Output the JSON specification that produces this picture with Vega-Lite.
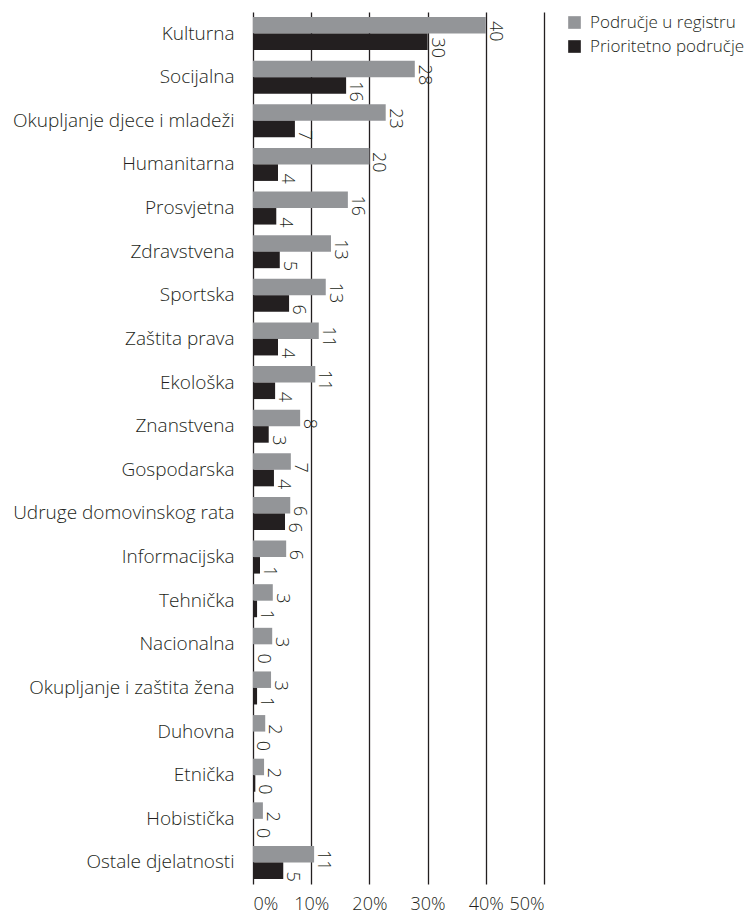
{
  "$schema": "https://vega.github.io/schema/vega-lite/v6.json",
  "autosize": "none",
  "width": 291,
  "height": 872,
  "padding": {"left": 253, "top": 12, "right": 209, "bottom": 32},
  "background": "white",
  "config": {
    "view": {"stroke": null},
    "font": "Open Sans",
    "text": {"font": "Open Sans"}
  },
  "data": {
    "values": [
      {"category": "Kulturna", "series": "Područje u registru", "value": 40.0},
      {"category": "Kulturna", "series": "Prioritetno područje", "value": 30.0},
      {"category": "Socijalna", "series": "Područje u registru", "value": 27.8},
      {"category": "Socijalna", "series": "Prioritetno područje", "value": 16.0},
      {"category": "Okupljanje djece i mladeži", "series": "Područje u registru", "value": 22.8},
      {"category": "Okupljanje djece i mladeži", "series": "Prioritetno područje", "value": 7.2},
      {"category": "Humanitarna", "series": "Područje u registru", "value": 20.0},
      {"category": "Humanitarna", "series": "Prioritetno područje", "value": 4.3},
      {"category": "Prosvjetna", "series": "Područje u registru", "value": 16.3},
      {"category": "Prosvjetna", "series": "Prioritetno područje", "value": 4.0},
      {"category": "Zdravstvena", "series": "Područje u registru", "value": 13.4},
      {"category": "Zdravstvena", "series": "Prioritetno područje", "value": 4.6},
      {"category": "Sportska", "series": "Područje u registru", "value": 12.5},
      {"category": "Sportska", "series": "Prioritetno područje", "value": 6.2},
      {"category": "Zaštita prava", "series": "Područje u registru", "value": 11.3},
      {"category": "Zaštita prava", "series": "Prioritetno područje", "value": 4.3},
      {"category": "Ekološka", "series": "Područje u registru", "value": 10.7},
      {"category": "Ekološka", "series": "Prioritetno područje", "value": 3.8},
      {"category": "Znanstvena", "series": "Područje u registru", "value": 8.1},
      {"category": "Znanstvena", "series": "Prioritetno područje", "value": 2.7},
      {"category": "Gospodarska", "series": "Područje u registru", "value": 6.5},
      {"category": "Gospodarska", "series": "Prioritetno područje", "value": 3.6},
      {"category": "Udruge domovinskog rata", "series": "Područje u registru", "value": 6.4},
      {"category": "Udruge domovinskog rata", "series": "Prioritetno područje", "value": 5.5},
      {"category": "Informacijska", "series": "Područje u registru", "value": 5.7},
      {"category": "Informacijska", "series": "Prioritetno područje", "value": 1.2},
      {"category": "Tehnička", "series": "Područje u registru", "value": 3.4},
      {"category": "Tehnička", "series": "Prioritetno područje", "value": 0.7},
      {"category": "Nacionalna", "series": "Područje u registru", "value": 3.3},
      {"category": "Nacionalna", "series": "Prioritetno područje", "value": 0.1},
      {"category": "Okupljanje i zaštita žena", "series": "Područje u registru", "value": 3.1},
      {"category": "Okupljanje i zaštita žena", "series": "Prioritetno područje", "value": 0.7},
      {"category": "Duhovna", "series": "Područje u registru", "value": 2.1},
      {"category": "Duhovna", "series": "Prioritetno područje", "value": 0.0},
      {"category": "Etnička", "series": "Područje u registru", "value": 1.9},
      {"category": "Etnička", "series": "Prioritetno područje", "value": 0.4},
      {"category": "Hobistička", "series": "Područje u registru", "value": 1.7},
      {"category": "Hobistička", "series": "Prioritetno područje", "value": 0.0},
      {"category": "Ostale djelatnosti", "series": "Područje u registru", "value": 10.5},
      {"category": "Ostale djelatnosti", "series": "Prioritetno područje", "value": 5.2}
    ]
  },
  "encoding": {
    "y": {
      "field": "category",
      "type": "nominal",
      "sort": null,
      "scale": {"paddingInner": 0.243, "paddingOuter": 0.115},
      "axis": {
        "title": null,
        "ticks": false,
        "domain": false,
        "labelPadding": 19,
        "labelFontSize": 19,
        "labelFont": "Open Sans",
        "labelFontWeight": 300,
        "labelColor": "#231f20",
        "labelLimit": 400
      }
    },
    "yOffset": {
      "field": "series",
      "type": "nominal",
      "sort": ["Područje u registru", "Prioritetno područje"]
    },
    "x": {
      "field": "value",
      "type": "quantitative",
      "scale": {"domain": [0, 50], "nice": false},
      "axis": {
        "title": null,
        "values": [0, 10, 20, 30, 40, 50],
        "labelExpr": "datum.value + '%'",
        "ticks": false,
        "domain": false,
        "grid": true,
        "gridColor": "#231f20",
        "gridWidth": 1.3,
        "gridOpacity": 1,
        "labelPadding": 11,
        "labelFontSize": 18,
        "labelFont": "Open Sans",
        "labelFontWeight": 300,
        "labelColor": "#231f20"
      }
    }
  },
  "layer": [
    {
      "mark": {"type": "bar", "cornerRadius": 0},
      "encoding": {
        "color": {
          "field": "series",
          "type": "nominal",
          "scale": {
            "domain": ["Područje u registru", "Prioritetno područje"],
            "range": ["#939598", "#231f20"]
          },
          "legend": {
            "title": null,
            "orient": "none",
            "legendX": 313,
            "legendY": 2,
            "symbolType": "square",
            "symbolSize": 160,
            "symbolStrokeWidth": 0,
            "labelFontSize": 17,
            "labelFont": "Open Sans",
            "labelFontWeight": 300,
            "labelColor": "#231f20",
            "labelOffset": 7,
            "rowPadding": 6,
            "labelLimit": 300
          }
        }
      }
    },
    {
      "mark": {
        "type": "text",
        "angle": 90,
        "align": "center",
        "baseline": "bottom",
        "dx": 6,
        "fontSize": 18,
        "font": "Open Sans",
        "fontWeight": 300,
        "color": "#231f20"
      },
      "encoding": {
        "text": {"field": "value", "type": "quantitative", "format": ".0f"}
      }
    }
  ]
}
